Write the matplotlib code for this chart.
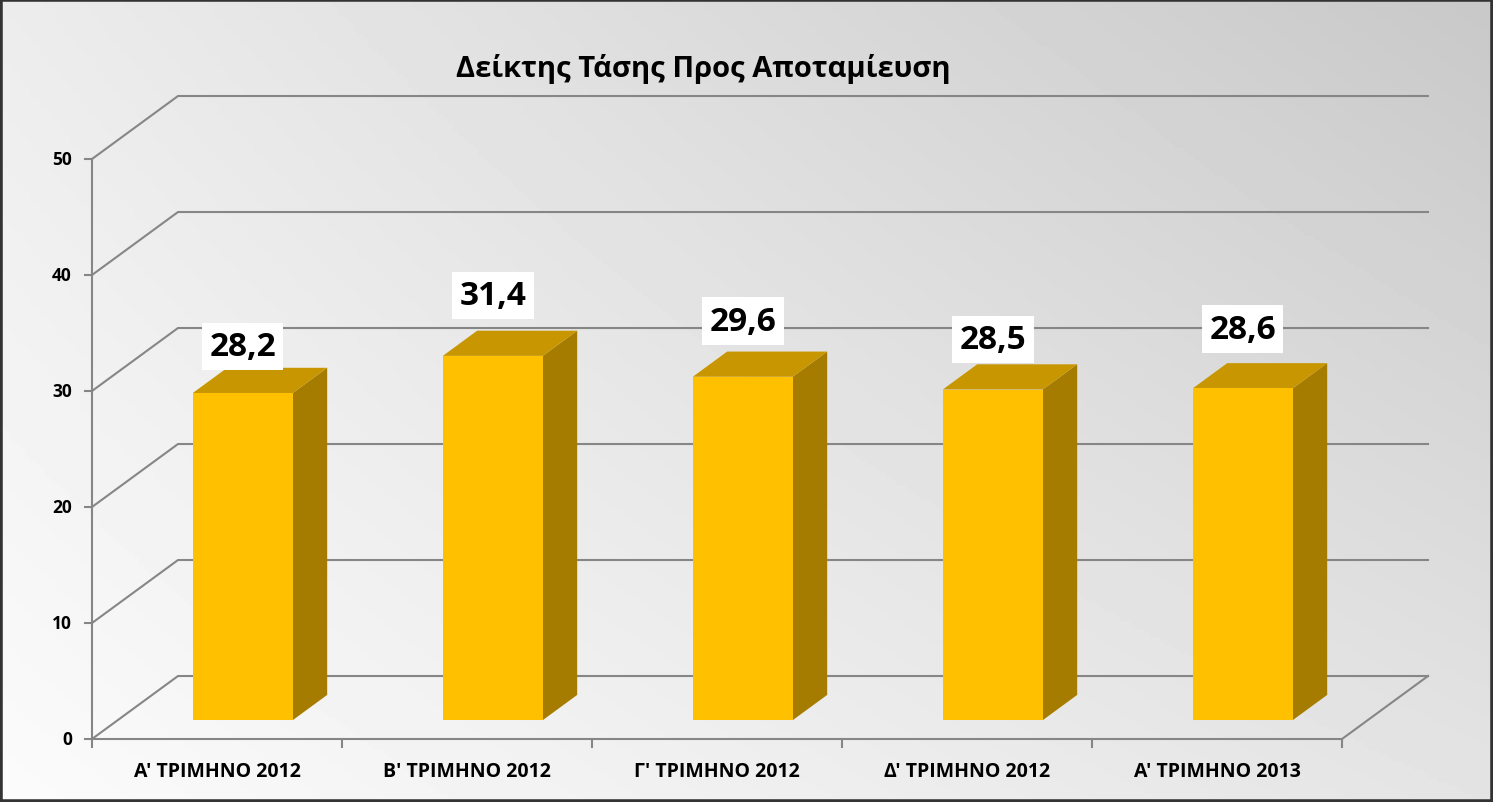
import numpy as np
import matplotlib
matplotlib.use("Agg")
import matplotlib.pyplot as plt
from matplotlib.patches import Polygon, Rectangle

plt.rcParams['font.family'] = ['Open Sans', 'DejaVu Sans']

# data
title = "Δείκτης Τάσης Προς Αποταμίευση"
categories = ["Α' ΤΡΙΜΗΝΟ 2012", "Β' ΤΡΙΜΗΝΟ 2012", "Γ' ΤΡΙΜΗΝΟ 2012",
              "Δ' ΤΡΙΜΗΝΟ 2012", "Α' ΤΡΙΜΗΝΟ 2013"]
values = [28.2, 31.4, 29.6, 28.5, 28.6]
labels = ["28,2", "31,4", "29,6", "28,5", "28,6"]
yticks = [0, 10, 20, 30, 40, 50]

# label placement above each bar (the original has hand-moved labels)
label_lift = [4.0, 5.2, 4.8, 4.3, 5.1]

# oblique depth offset (full depth) in data units
DX, DY = 0.344, 5.43
BAR_W = 0.4
D0, D1 = 0.30, 0.70   # bar front / back depth

FRONT = "#FFC000"
TOP = "#C89600"
SIDE = "#A67C00"
GRID = "#868686"


def proj(x, y, d):
    return (x + d * DX, y + d * DY)


fig = plt.figure(figsize=(14.93, 8.03), dpi=100)

# background gradient
bg = fig.add_axes([0, 0, 1, 1], zorder=0)
u = np.linspace(0, 1, 300)
t = np.linspace(0, 1, 200)
U, T = np.meshgrid(u, t)
v = (236 * (1 - U) * (1 - T) + 200 * U * (1 - T) + 251 * (1 - U) * T + 228 * U * T) / 255
bg.imshow(v, cmap="gray", vmin=0, vmax=1, aspect="auto", extent=[0, 1, 0, 1], origin="upper")
bg.set_axis_off()
bg.add_patch(Rectangle((0, 0), 1, 1, transform=bg.transAxes, fill=False,
                       edgecolor="#333333", linewidth=4, clip_on=False))

ax = fig.add_axes([92 / 1493, 63 / 803, 1250 / 1493, 580 / 803], zorder=1)
ax.set_xlim(0, 5)
ax.set_ylim(0, 50)
ax.set_axis_off()
n = len(categories)

# walls / gridlines
for yv in yticks:
    x0, y0 = proj(0, yv, 0)
    x1, y1 = proj(0, yv, 1)
    x2, y2 = proj(n, yv, 1)
    ax.plot([x0, x1, x2], [y0, y1, y2], color=GRID, lw=1.5, clip_on=False, zorder=1)
    ax.plot([-0.028, 0], [yv, yv], color=GRID, lw=1.5, clip_on=False, zorder=1)
    ax.text(-0.08, yv, str(yv), ha="right", va="center", fontsize=12.5,
            fontweight="bold", color="black")

# floor right edge, front edge, value axis
fx0, fy0 = proj(n, 0, 0)
fx1, fy1 = proj(n, 0, 1)
ax.plot([fx0, fx1], [fy0, fy1], color=GRID, lw=1.5, clip_on=False, zorder=1)
ax.plot([0, n], [0, 0], color=GRID, lw=1.5, clip_on=False, zorder=1)
ax.plot([0, 0], [0, 50], color=GRID, lw=1.5, clip_on=False, zorder=1)
for i in range(n + 1):
    ax.plot([i, i], [0, -0.7], color=GRID, lw=1.5, clip_on=False, zorder=1)

# bars
for i, val in enumerate(values):
    xl = i + 0.5 - BAR_W / 2
    xr = i + 0.5 + BAR_W / 2
    a = proj(xl, 0, D0)
    b = proj(xr, 0, D0)
    c = proj(xr, val, D0)
    d = proj(xl, val, D0)
    cb = proj(xr, val, D1)
    db = proj(xl, val, D1)
    bb = proj(xr, 0, D1)
    ax.add_patch(Polygon([b, bb, cb, c], closed=True, facecolor=SIDE, edgecolor="none", zorder=3))
    ax.add_patch(Polygon([d, c, cb, db], closed=True, facecolor=TOP, edgecolor="none", zorder=3))
    ax.add_patch(Polygon([a, b, c, d], closed=True, facecolor=FRONT, edgecolor="none", zorder=4))
    lx = (a[0] + b[0]) / 2
    ax.text(lx, val + D0 * DY + label_lift[i], labels[i], ha="center", va="center",
            fontsize=24, fontweight="bold", color="black", zorder=6,
            bbox=dict(boxstyle="square,pad=0.22", facecolor="white", edgecolor="none"))

# category labels
for i, cat in enumerate(categories):
    ax.text(i + 0.5, -2.8, cat, ha="center", va="center", fontsize=14,
            fontweight="bold", color="black")

fig.text(703 / 1493, 1 - 77 / 803, title, ha="center", va="baseline",
         fontsize=21, fontweight="bold", color="black")

fig.savefig("out.png", dpi=100)
